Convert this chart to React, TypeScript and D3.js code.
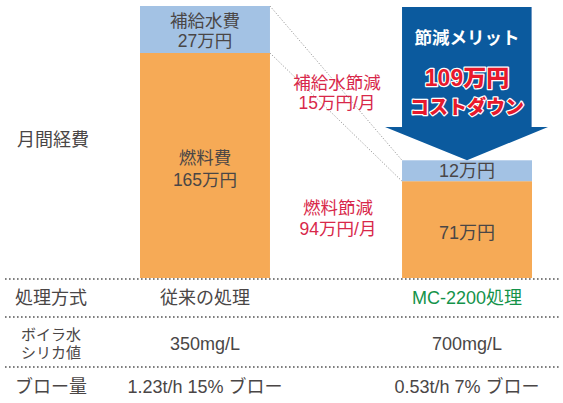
import React from "react";
import * as d3 from "d3";

const categories = ["conventional", "mc2200"];
const fuelCost = [165, 71];
const waterCost = [27, 12];
const fuelLabels = [["燃料費", "165万円"], ["71万円"]];
const waterLabels = [["補給水費", "27万円"], ["12万円"]];
const savingLabels = [["補給水節減", "15万円/月"], ["燃料節減", "94万円/月"]];
const arrowTitle = "節減メリット";
const arrowAmount = "109万円";
const arrowSub = "コストダウン";
const rowHeaders = [["処理方式"], ["ボイラ水", "シリカ値"], ["ブロー量"]];
const rowValues = [
  ["従来の処理", "MC-2200処理"],
  ["350mg/L", "700mg/L"],
  ["1.23t/h 15% ブロー", "0.53t/h 7% ブロー"],
];
const yAxisLabel = "月間経費";

const W = 563;
const H = 403;
const FONT = "'Liberation Sans', 'Noto Sans CJK JP', sans-serif";
const TEXT = "#4a4646";
const RED = "#d8284a";
const GREEN = "#14934a";
const ORANGE = "#f6aa56";
const BLUE = "#a3c2e4";
const NAVY = "#0b5a9e";

export default function App() {
  const x = d3.scaleBand<string>().domain(categories).range([140, 532]).paddingInner(0.504).paddingOuter(0);
  const bw = x.bandwidth();
  const base = 278;
  const yFuel = d3.scaleLinear().domain([0, 165]).range([base, 53]);
  const hWater = d3.scaleLinear().domain([0, 27]).range([0, 47]);

  const bars = categories.map((c, i) => {
    const x0 = x(c)!;
    const fTop = yFuel(fuelCost[i]);
    const wTop = fTop - hWater(waterCost[i]);
    return { x0, fTop, wTop, cx: x0 + bw / 2 };
  });

  const L = bars[0];
  const R = bars[1];

  const ap = d3.path();
  const shaftL = R.x0;
  const shaftR = R.x0 + bw;
  const headY = 127;
  ap.moveTo(shaftL, L.wTop + 1);
  ap.lineTo(shaftR, L.wTop + 1);
  ap.lineTo(shaftR, headY);
  ap.lineTo(shaftR + 16, headY);
  ap.lineTo(R.cx, R.wTop);
  ap.lineTo(shaftL - 17, headY);
  ap.lineTo(shaftL, headY);
  ap.closePath();

  const rowLines = [279, 317, 367];
  const rowCenters = [298, 343.5, 387];
  const labelX = 51;
  const midX = (L.x0 + bw + R.x0) / 2 + 3;

  return (
    <svg
      width={W}
      height={H}
      style={{ position: "absolute", left: 0, top: 0, background: "#fff" }}
      fontFamily={FONT}
    >
      {bars.map((b, i) => (
        <g key={categories[i]}>
          <rect x={b.x0} y={b.fTop} width={bw} height={base - b.fTop} fill={ORANGE} />
          <rect x={b.x0} y={b.wTop} width={bw} height={b.fTop - b.wTop} fill={BLUE} />
        </g>
      ))}

      <line x1={L.x0 + bw} y1={L.wTop} x2={R.x0} y2={R.wTop} stroke="#9a9a9a" strokeWidth={1} strokeDasharray="1.2 1.8" />
      <line x1={L.x0 + bw} y1={L.fTop} x2={R.x0} y2={R.fTop} stroke="#9a9a9a" strokeWidth={1} strokeDasharray="1.2 1.8" />

      <path d={ap.toString()} fill={NAVY} />
      <line x1={shaftR - 0.5} y1={L.wTop + 1} x2={shaftR - 0.5} y2={headY} stroke="#6f97c4" strokeWidth={1} />
      <text x={R.cx} y={38} textAnchor="middle" dominantBaseline="central" fill="#fff" fontWeight={700} fontSize={17.5}>
        {arrowTitle}
      </text>
      <text x={R.cx} y={78} textAnchor="middle" dominantBaseline="central" fill="#e8192c" stroke="#fff" strokeWidth={2.5} paintOrder="stroke" strokeLinejoin="round" fontWeight={900} fontSize={23}>
        {arrowAmount}
      </text>
      <text x={R.cx} y={107} textAnchor="middle" dominantBaseline="central" fill="#e8192c" stroke="#fff" strokeWidth={2.5} paintOrder="stroke" strokeLinejoin="round" fontWeight={900} fontSize={19}>
        {arrowSub}
      </text>

      {waterLabels[0].map((t, k) => (
        <text key={"wl" + k} x={L.cx} y={20.5 + k * 20} textAnchor="middle" dominantBaseline="central" fill={TEXT} fontSize={17.5}>{t}</text>
      ))}
      {fuelLabels[0].map((t, k) => (
        <text key={"fl" + k} x={L.cx} y={158 + k * 21.5} textAnchor="middle" dominantBaseline="central" fill={TEXT} fontSize={17.5}>{t}</text>
      ))}
      <text x={R.cx} y={(R.wTop + R.fTop) / 2 + 0.5} textAnchor="middle" dominantBaseline="central" fill={TEXT} fontSize={18}>{waterLabels[1][0]}</text>
      <text x={R.cx} y={233} textAnchor="middle" dominantBaseline="central" fill={TEXT} fontSize={18}>{fuelLabels[1][0]}</text>

      {savingLabels[0].map((t, k) => (
        <text key={"s0" + k} x={midX - 2} y={82.5 + k * 20} textAnchor="middle" dominantBaseline="central" fill={RED} fontSize={17.5}>{t}</text>
      ))}
      {savingLabels[1].map((t, k) => (
        <text key={"s1" + k} x={midX - 1} y={207.5 + k * 21} textAnchor="middle" dominantBaseline="central" fill={RED} fontSize={17.5}>{t}</text>
      ))}

      <text x={labelX + 2} y={139.5} textAnchor="middle" dominantBaseline="central" fill={TEXT} fontSize={18}>{yAxisLabel}</text>

      {rowLines.map((y) => (
        <line key={y} x1={5} x2={560} y1={y} y2={y} stroke="#555" strokeWidth={1.6} strokeDasharray="1.6 2.4" />
      ))}

      {rowHeaders.map((hdr, r) =>
        hdr.length === 1 ? (
          <text key={"h" + r} x={labelX} y={rowCenters[r]} textAnchor="middle" dominantBaseline="central" fill={TEXT} fontSize={18}>{hdr[0]}</text>
        ) : (
          hdr.map((t, k) => (
            <text key={"h" + r + k} x={labelX} y={334.5 + k * 17.5} textAnchor="middle" dominantBaseline="central" fill={TEXT} fontSize={15}>{t}</text>
          ))
        )
      )}
      {rowValues.map((vals, r) =>
        vals.map((v, i) => (
          <text
            key={"v" + r + i}
            x={bars[i].cx}
            y={rowCenters[r]}
            textAnchor="middle"
            dominantBaseline="central"
            fill={r === 0 && i === 1 ? GREEN : TEXT}
            fontSize={18}
          >
            {v}
          </text>
        ))
      )}
    </svg>
  );
}
